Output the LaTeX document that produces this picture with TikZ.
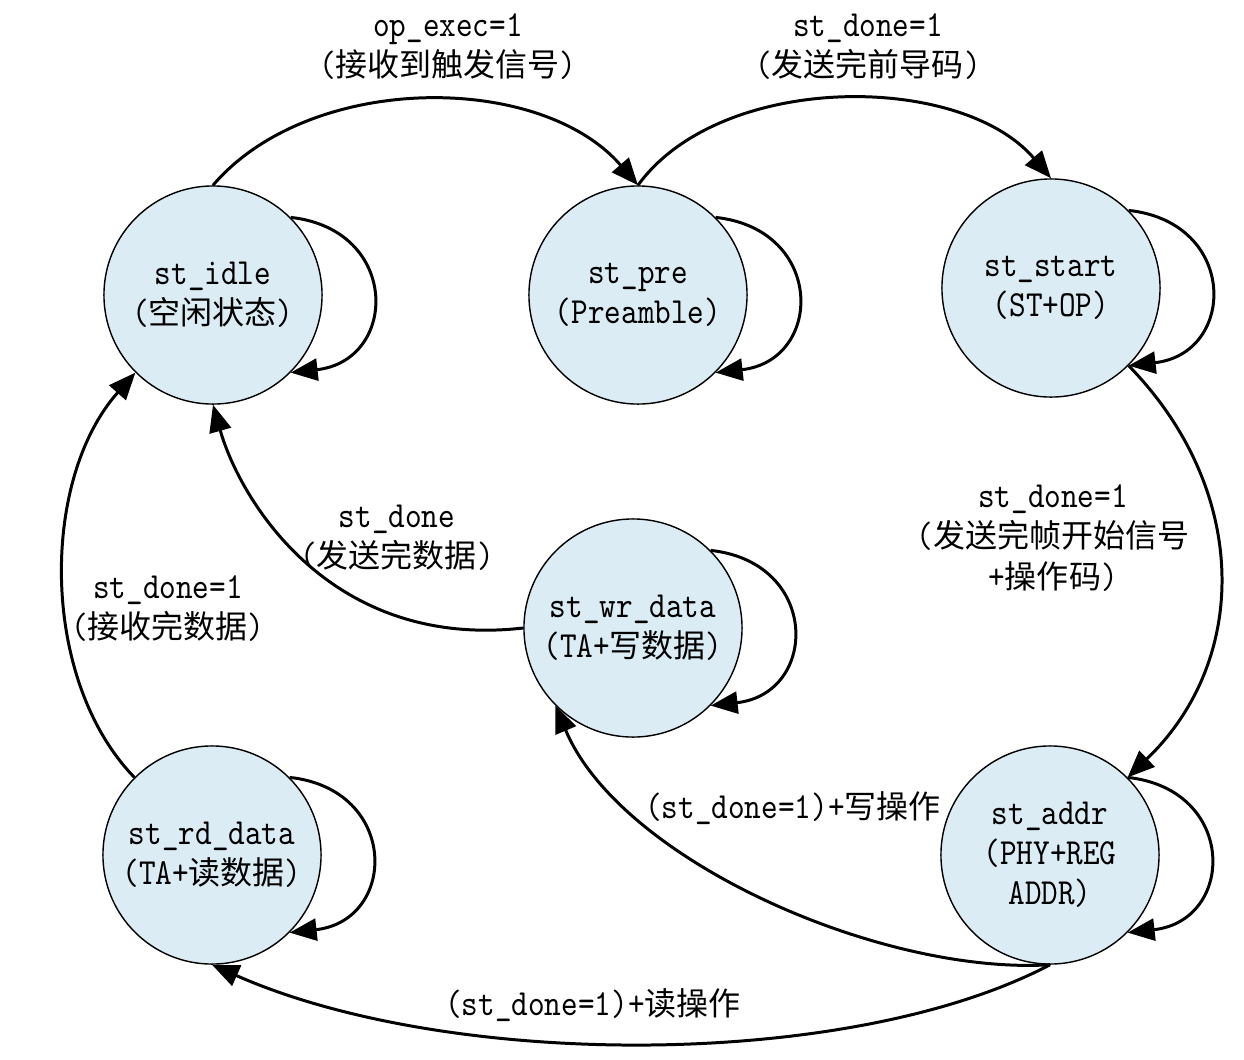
\documentclass[tikz,border=0pt]{standalone}
\usepackage{fontspec}
\setmonofont{lmmono10-regular.otf}[Scale=1.15,FakeStretch=0.86]
\newfontfamily\cjk{Noto Sans CJK SC}
\usetikzlibrary{arrows.meta}
\definecolor{statefill}{RGB}{219,236,244}
\newcommand{\zh}[1]{{\cjk #1}}

\begin{document}
\begin{tikzpicture}[x=0.01cm,y=-0.01cm,
  every node/.append style={font=\ttfamily\fontsize{9.1}{11.4}\selectfont},
  state/.style={circle,draw,line width=0.4pt,fill=statefill,minimum size=2.18cm,inner sep=0pt,align=center},
  trans/.style={line width=0.85pt,-{Triangle[length=0.27cm,width=0.22cm]}},
  lbl/.style={align=center,inner sep=0pt}]
\useasboundingbox (0,0) rectangle (1244,1060);
% states
\node[state] (idle) at (213,295) {st\_idle\\(\zh{空闲状态})};
\node[state] (pre) at (638,295) {st\_pre\\(Preamble)};
\node[state] (start) at (1051,288) {st\_start\\(ST+OP)};
\node[state] (wr) at (633,628) {st\_wr\_data\\(TA+\zh{写数据})};
\node[state] (rd) at (212,855) {st\_rd\_data\\(TA+\zh{读数据})};
\node[state] (addr) at (1050,855) {st\_addr\\(PHY+REG\\ADDR)};

% self loops
\foreach \s in {idle,pre,start,wr,rd,addr}
  \draw[trans] (\s.45) .. controls +(110,12) and +(108,-12) .. (\s.-45);

\begin{scope}[trans]
\draw (idle.north) .. controls (310,72) and (540,72) .. (pre.north);
\draw (pre.north) .. controls (720,72) and (960,72) .. (start.north);
\draw (start.-45) .. controls (1250,490) and (1250,660) .. (addr.45);
\draw (addr.south) .. controls (880,975) and (620,860) .. (wr.-135);
\draw (addr.south) .. controls (850,1070) and (450,1070) .. (rd.south);
\draw (wr.west) .. controls (330,650) and (240,500) .. (idle.south);
\draw (rd.135) .. controls (40,680) and (40,480) .. (idle.-135);
\end{scope}

% conditions
\node[lbl] (cexec) at (448,47) {op\_exec=1\\(\zh{接收到触发信号})};
\node[lbl] (cpre) at (868,47) {st\_done=1\\(\zh{发送完前导码})};
\node[lbl] (cstart) at (1053,538) {st\_done=1\\(\zh{发送完帧开始信号}\\+\zh{操作码})};
\node[lbl] (cwr) at (397,538) {st\_done\\(\zh{发送完数据})};
\node[lbl] (crd) at (168,609) {st\_done=1\\(\zh{接收完数据})};
\node[lbl] (cwrop) at (793,808) {(st\_done=1)+\zh{写操作}};
\node[lbl] (crdop) at (593,1005) {(st\_done=1)+\zh{读操作}};
\end{tikzpicture}
\end{document}
